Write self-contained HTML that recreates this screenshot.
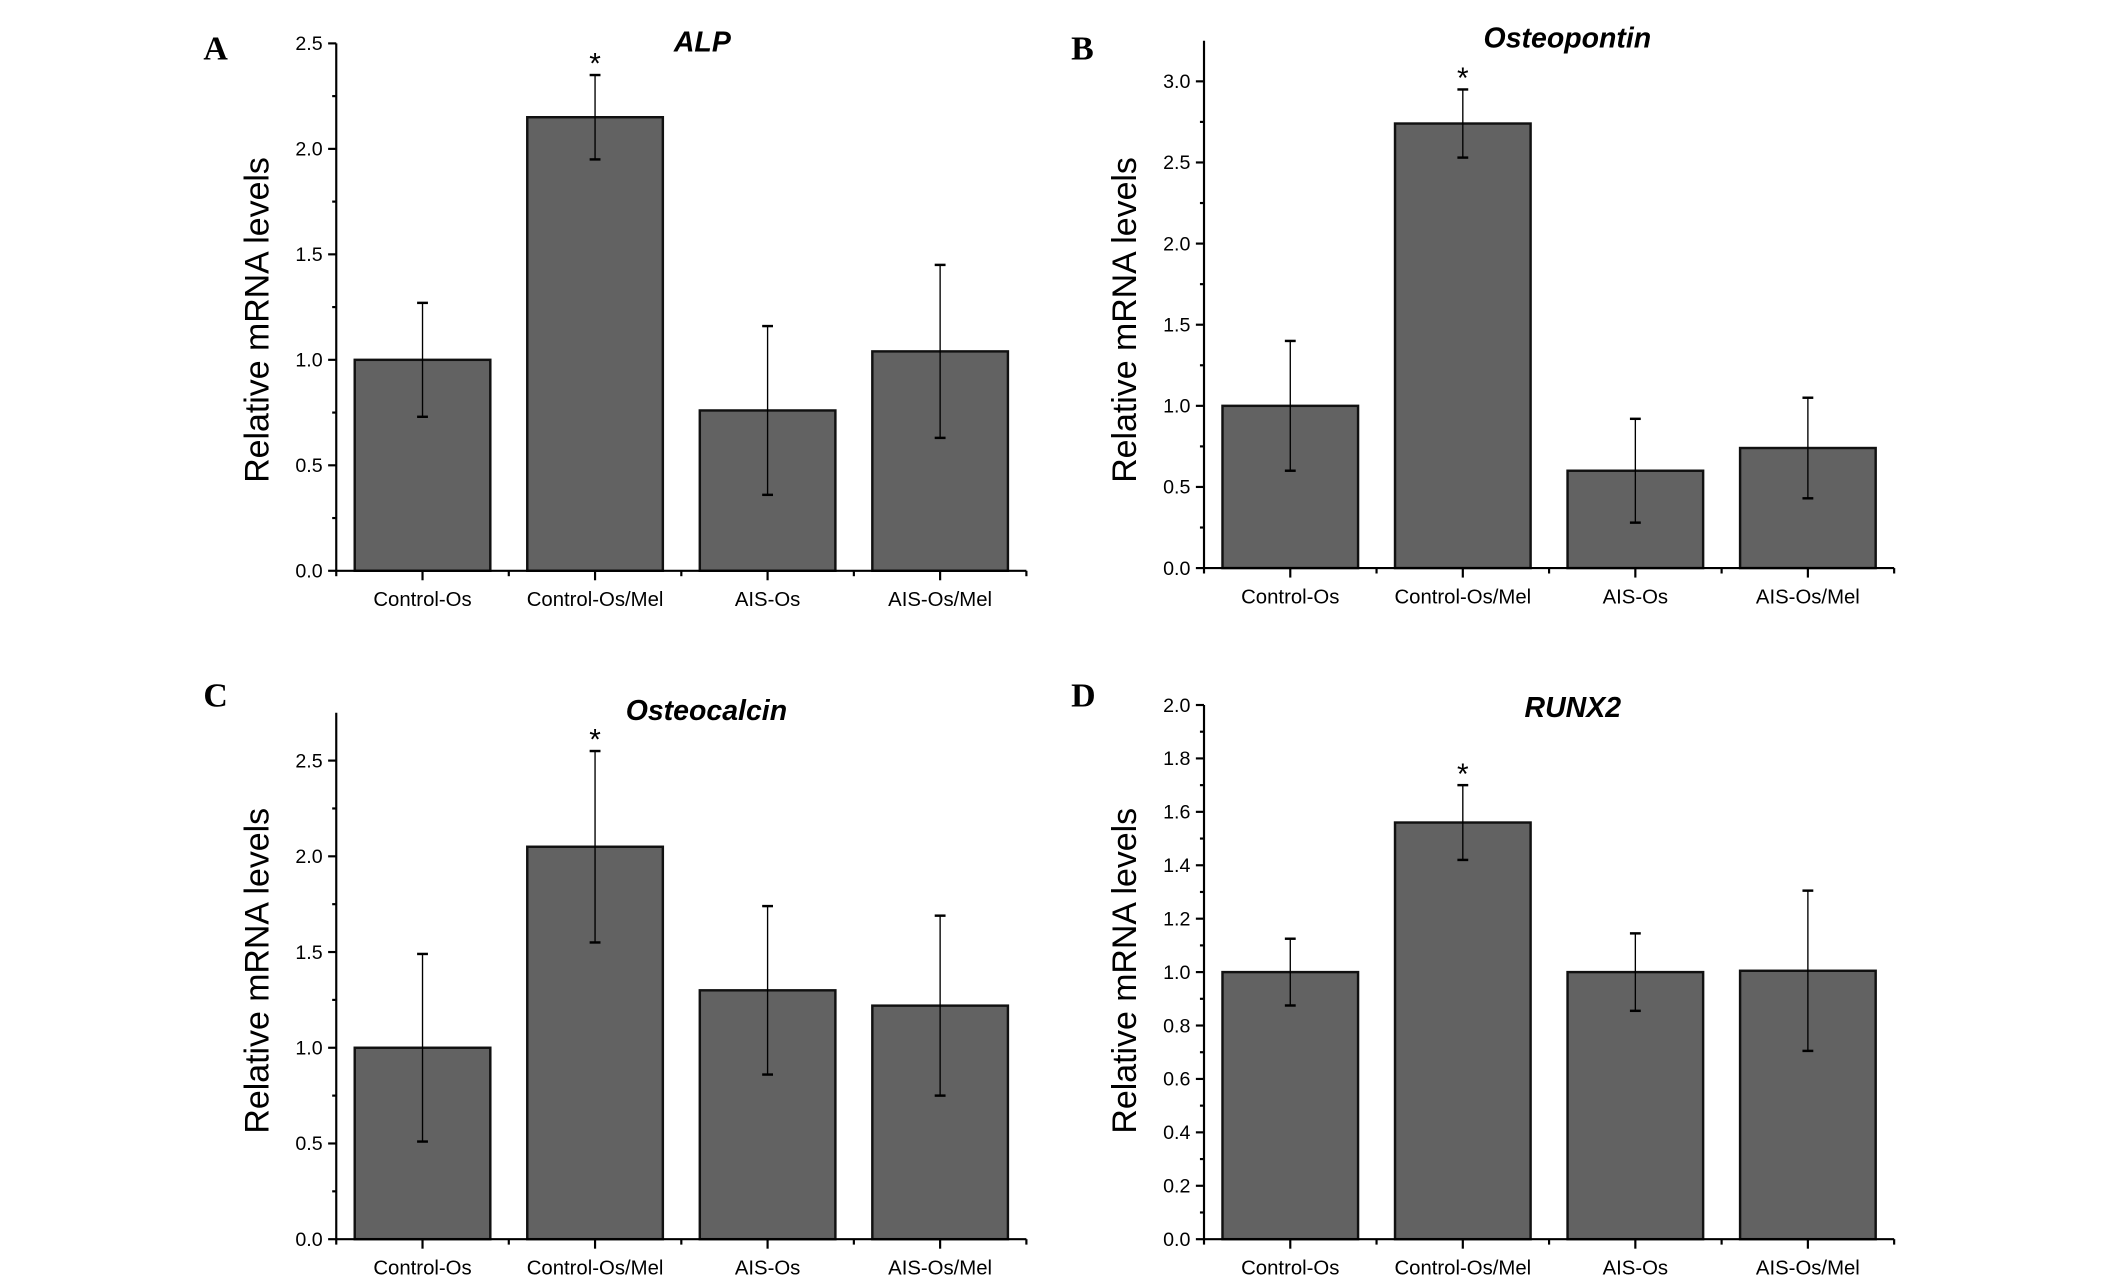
<!DOCTYPE html>
<html><head><meta charset="utf-8"><style>
html,body{margin:0;padding:0;background:#fff;}
svg{display:block;}
</style></head><body>
<svg id="chart" width="2126" height="1288" viewBox="0 0 1568 950" preserveAspectRatio="none" xmlns="http://www.w3.org/2000/svg" font-family="Liberation Sans, Arial, sans-serif"></svg>
<script>
const categories = ["Control-Os","Control-Os/Mel","AIS-Os","AIS-Os/Mel"];
const alpValues = [1.0, 2.15, 0.76, 1.04];
const alpErrors = [0.27, 0.2, 0.4, 0.41];
const opnValues = [1.0, 2.74, 0.6, 0.74];
const opnErrors = [0.4, 0.21, 0.32, 0.31];
const ocnValues = [1.0, 2.05, 1.3, 1.22];
const ocnErrors = [0.49, 0.5, 0.44, 0.47];
const runxValues = [1.0, 1.56, 1.0, 1.005];
const runxErrors = [0.125, 0.14, 0.145, 0.3];
const alpTicks = ["0.0","0.5","1.0","1.5","2.0","2.5"];
const opnTicks = ["0.0","0.5","1.0","1.5","2.0","2.5","3.0"];
const ocnTicks = ["0.0","0.5","1.0","1.5","2.0","2.5"];
const runxTicks = ["0.0","0.2","0.4","0.6","0.8","1.0","1.2","1.4","1.6","1.8","2.0"];
const titles = ["ALP","Osteopontin","Osteocalcin","RUNX2"];
const letters = ["A","B","C","D"];
const starIndex = 1;

const NS="http://www.w3.org/2000/svg";
const svg=document.getElementById('chart');
function mk(tag,attrs,parent){const e=document.createElementNS(NS,tag);for(const k in attrs)e.setAttribute(k,attrs[k]);(parent||svg).appendChild(e);return e;}

function panel(p){
  const g=mk('g',{});
  
  
  const x0=p.x0, x1=p.x0+509, y0=p.y0;
  const yS=v=>y0-v*p.yUnit;
  const band=(x1-x0)/categories.length;
  const xC=i=>x0+band*(i+0.5);
  const L=mk('text',{x:p.x0-98,y:p.letterY,style:'font-family:"Liberation Serif",serif;font-weight:bold;font-size:25px'},g);
  L.textContent=p.letter;
  
  
  const T=mk('text',{x:p.titleX,y:p.titleY,'text-anchor':'middle','font-weight':'bold','font-style':'italic','font-size':21},g);
  T.textContent=p.title;
  
  
  p.values.forEach((v,i)=>{
    const r=mk('rect',{x:xC(i)-50,y:yS(v),width:100,height:y0-yS(v),fill:'#626262',stroke:'#111','stroke-width':1.8},g);
    
    
    const e=p.errors[i], cx=xC(i);
    const eb=mk('g',{stroke:'#000','stroke-width':1},g);
    
    
    mk('line',{x1:cx,x2:cx,y1:yS(v+e),y2:yS(v-e)},eb);
    mk('line',{x1:cx-4,x2:cx+4,y1:yS(v+e),y2:yS(v+e),'stroke-width':1.8},eb);
    mk('line',{x1:cx-4,x2:cx+4,y1:yS(v-e),y2:yS(v-e),'stroke-width':1.8},eb);
    if(i===starIndex){
      const s=mk('text',{x:cx,y:yS(v+e)-1,'text-anchor':'middle','font-size':22},g);
      s.textContent='*';
      
      
    }
  });
  const ax=mk('g',{stroke:'#000','stroke-width':1.6,fill:'none'},g);
  
  
  mk('line',{x1:x0,x2:x0,y1:y0,y2:yS(p.yMax)},ax);
  mk('line',{x1:x0,x2:x1,y1:y0,y2:y0},ax);
  p.ticks.forEach(t=>{
    const v=parseFloat(t), y=yS(v);
    mk('line',{x1:x0-6,x2:x0,y1:y,y2:y},ax);
    const tt=mk('text',{x:x0-10,y:y+5,'text-anchor':'end','font-size':14.5,stroke:'none',fill:'#000'},g);
    tt.textContent=t;
    
    
  });
  for(let v=p.minor;v<p.yMax-1e-6;v+=p.minor*2) mk('line',{x1:x0-3,x2:x0,y1:yS(v),y2:yS(v)},ax);
  for(let i=0;i<=categories.length;i++) mk('line',{x1:x0+band*i,x2:x0+band*i,y1:y0,y2:y0+4},ax);
  categories.forEach((c,i)=>{
    mk('line',{x1:xC(i),x2:xC(i),y1:y0,y2:y0+7},ax);
    const xt=mk('text',{x:xC(i),y:y0+26,'text-anchor':'middle','font-size':15},g);
    xt.textContent=c;
    
    
  });
  const yl=mk('text',{x:0,y:0,'text-anchor':'middle','font-size':25,transform:`translate(${x0-50},${p.yLabelY}) rotate(-90)`},g);
  yl.textContent='Relative mRNA levels';
  
  
}

panel({letter:letters[0],title:titles[0],x0:248,y0:421,yUnit:(421-32)/2.5,yMax:2.5,minor:0.25,ticks:alpTicks,values:alpValues,errors:alpErrors,titleX:518,titleY:38,letterY:44,yLabelY:236});
panel({letter:letters[1],title:titles[1],x0:888,y0:419,yUnit:(419-60)/3,yMax:3.25,minor:0.25,ticks:opnTicks,values:opnValues,errors:opnErrors,titleX:1156,titleY:35,letterY:44,yLabelY:236});
panel({letter:letters[2],title:titles[2],x0:248,y0:914,yUnit:(914-561)/2.5,yMax:2.75,minor:0.25,ticks:ocnTicks,values:ocnValues,errors:ocnErrors,titleX:521,titleY:531,letterY:521,yLabelY:716});
panel({letter:letters[3],title:titles[3],x0:888,y0:914,yUnit:(914-520)/2,yMax:2.0,minor:0.1,ticks:runxTicks,values:runxValues,errors:runxErrors,titleX:1160,titleY:529,letterY:521,yLabelY:716});
</script>
</body></html>
